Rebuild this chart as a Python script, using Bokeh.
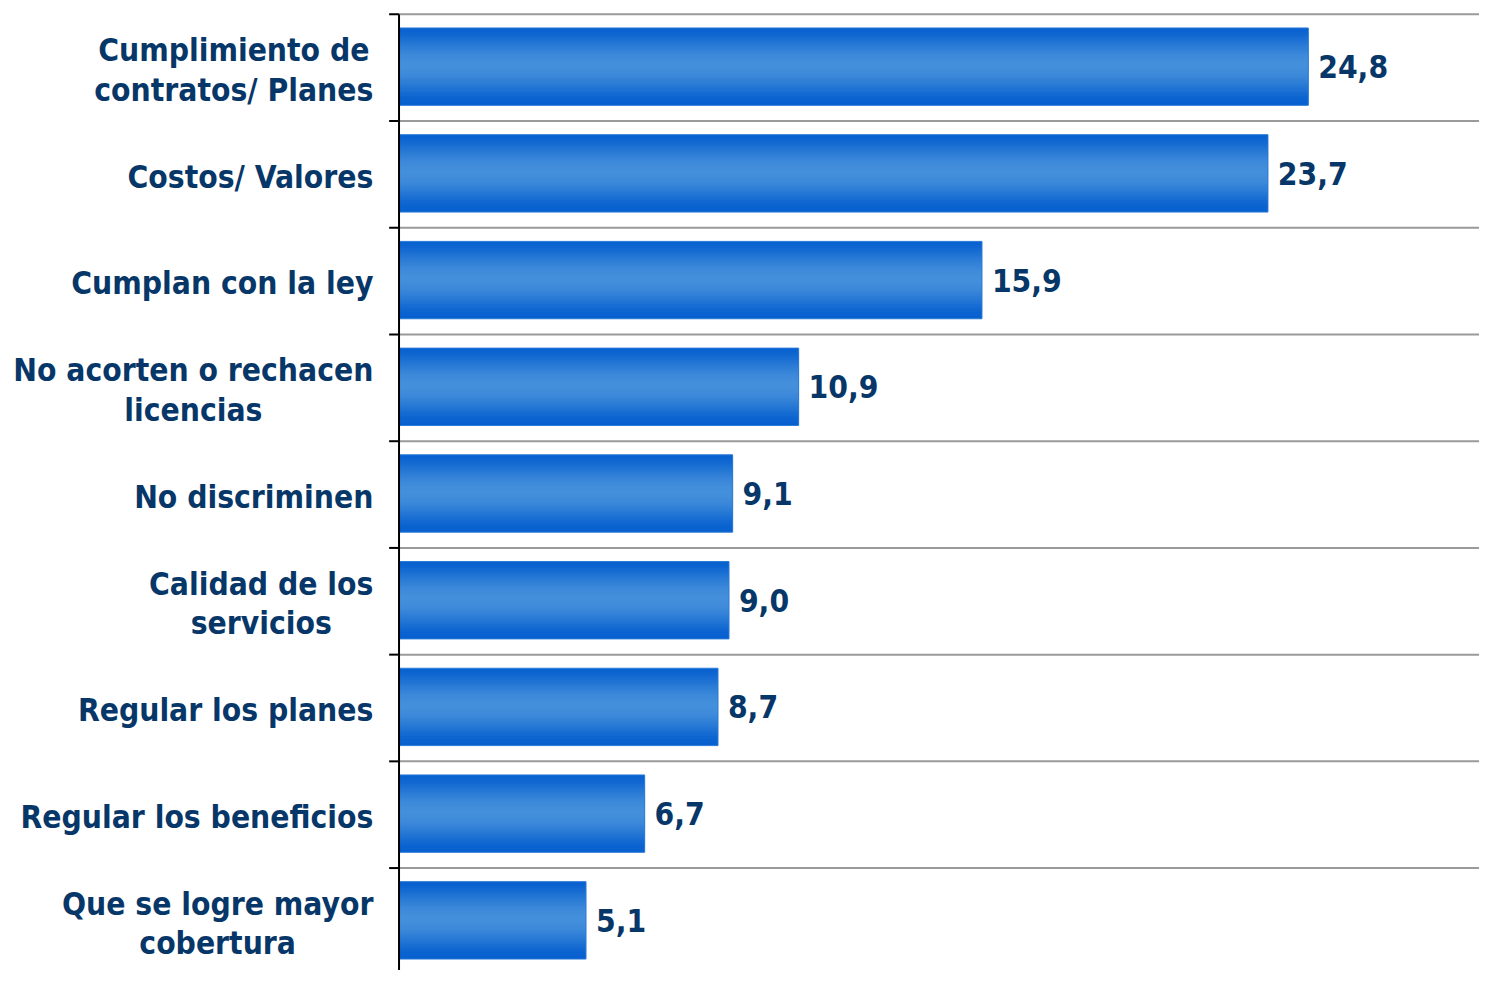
from bokeh.plotting import figure
from bokeh.models import Range1d, ColumnDataSource
from bokeh.core.properties import value
from bokeh.embed import file_html
from bokeh.resources import INLINE
import math

categories = [
    "Cumplimiento de\ncontratos/ Planes",
    "Costos/ Valores",
    "Cumplan con la ley",
    "No acorten o rechacen\nlicencias",
    "No discriminen",
    "Calidad de los\nservicios",
    "Regular los planes",
    "Regular los beneficios",
    "Que se logre mayor\ncobertura",
]
values = [24.8, 23.7, 15.9, 10.9, 9.1, 9.0, 8.7, 6.7, 5.1]
value_labels = ["24,8", "23,7", "15,9", "10,9", "9,1", "9,0", "8,7", "6,7", "5,1"]

W, H = 1479, 970
X0, X1 = -10.87, 29.47
Y_TOP, Y_BOT = -0.13, 8.96
FONT = "'DejaVu Sans Condensed', 'DejaVu Sans'"
TXT = "#073768"

p = figure(width=W, height=H, output_backend="svg", toolbar_location=None,
           x_range=Range1d(X0, X1), y_range=Range1d(Y_BOT, Y_TOP),
           min_border=0, outline_line_color=None)
p.axis.visible = False
p.grid.visible = False
p.background_fill_color = "white"

n = len(values)
idx = list(range(n))
bounds = list(range(n + 1))

# gridlines at category boundaries
p.segment(x0=[0] * len(bounds), x1=[X1] * len(bounds), y0=bounds, y1=bounds,
          line_color="#9a9a9a", line_width=2)
# tick marks
p.segment(x0=[-0.27] * len(bounds), x1=[0] * len(bounds), y0=bounds, y1=bounds,
          line_color="black", line_width=2)

# gradient bars via strips
BAR_C, BAR_H = 0.49, 0.725
dark = (6, 96, 206)
light = (68, 143, 219)
NS = 30
for j in range(NS):
    t = (j + 0.5) / NS
    f = math.sin(math.pi * t) ** 1.6
    c = tuple(int(round(dark[k] + (light[k] - dark[k]) * f)) for k in range(3))
    col = "#%02x%02x%02x" % c
    yc = [i + BAR_C - BAR_H / 2 + BAR_H * t for i in idx]
    hh = BAR_H / NS * (1.0 if j in (0, NS - 1) else 2.2)
    p.hbar(y=yc, left=0, right=values, height=hh,
           fill_color=col, line_color=None)
p.hbar(y=[i + BAR_C for i in idx], left=0, right=values, height=BAR_H,
       fill_color=None, line_color="#2a7ad8", line_width=1)

# axis line (starts at first boundary)
p.segment(x0=[0], x1=[0], y0=[0], y1=[Y_BOT], line_color="black", line_width=2)

# value labels
src = ColumnDataSource(dict(x=[v + 0.27 for v in values], y=[i + BAR_C for i in idx],
                            t=value_labels))
p.text(x="x", y="y", text="t", source=src, text_font=value(FONT),
       text_font_style="bold", text_font_size=value("31.5px"), text_color=TXT,
       text_align="left", text_baseline="middle")

# category labels
src2 = ColumnDataSource(dict(x=[-0.70] * n, y=[i + 0.52 for i in idx], t=categories))
p.text(x="x", y="y", text="t", source=src2, text_font=value(FONT),
       text_font_style="bold", text_font_size=value("31.5px"), text_color=TXT,
       anchor="center_right", text_align="center", text_baseline="middle",
       text_line_height=1.1)

open("out.html", "w").write(file_html(p, INLINE))
